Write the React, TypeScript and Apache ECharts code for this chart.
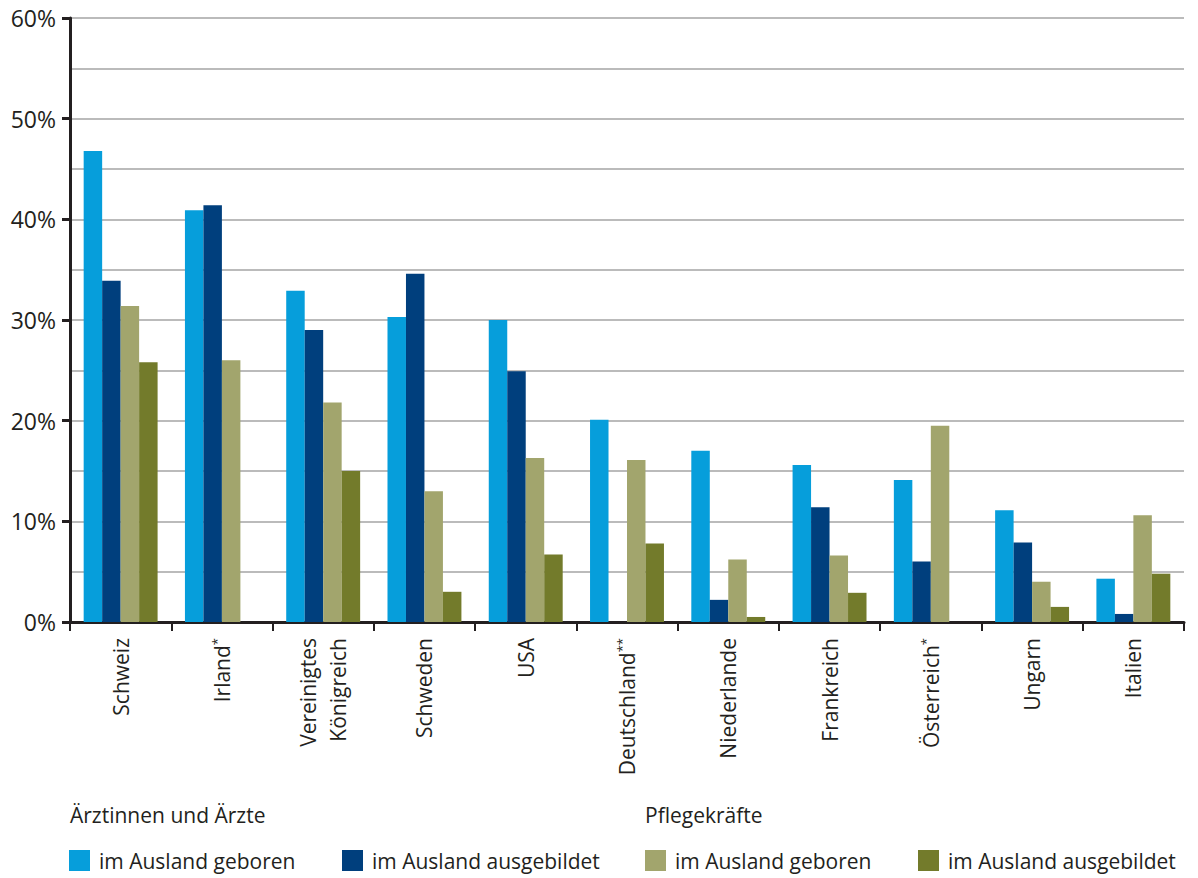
import React, { useEffect, useRef } from "react";
import * as echarts from "echarts";

// Countries (x categories)
const categories = [
  "Schweiz",
  "Irland*",
  "Vereinigtes\nKönigreich",
  "Schweden",
  "USA",
  "Deutschland**",
  "Niederlande",
  "Frankreich",
  "Österreich*",
  "Ungarn",
  "Italien",
];

// Share in percent; null = no data
const doctorsBornAbroad = [46.8, 40.9, 32.9, 30.3, 30.0, 20.1, 17.0, 15.6, 14.1, 11.1, 4.3];
const doctorsTrainedAbroad = [33.9, 41.4, 29.0, 34.6, 24.9, null, 2.2, 11.4, 6.0, 7.9, 0.8];
const nursesBornAbroad = [31.4, 26.0, 21.8, 13.0, 16.3, 16.1, 6.2, 6.6, 19.5, 4.0, 10.6];
const nursesTrainedAbroad = [25.8, null, 15.0, 3.0, 6.7, 7.8, 0.5, 2.9, null, 1.5, 4.8];

const groupDoctors = "Ärztinnen und Ärzte";
const groupNurses = "Pflegekräfte";
const labelBorn = "im Ausland geboren";
const labelTrained = "im Ausland ausgebildet";

const COLORS = ["#069edb", "#003f7d", "#a2a56d", "#737b2b"];
const FONT = "'Open Sans', 'DejaVu Sans', sans-serif";
const TEXT = "#231f20";

export default function App() {
  const ref = useRef<HTMLDivElement>(null);

  useEffect(() => {
    document.body.style.margin = "0";
    if (!ref.current) return;
    const chart = echarts.init(ref.current, undefined, { renderer: "svg" });

    const seriesDefs = [
      { name: `${groupDoctors}: ${labelBorn}`, data: doctorsBornAbroad },
      { name: `${groupDoctors}: ${labelTrained}`, data: doctorsTrainedAbroad },
      { name: `${groupNurses}: ${labelBorn}`, data: nursesBornAbroad },
      { name: `${groupNurses}: ${labelTrained}`, data: nursesTrainedAbroad },
    ];

    const legendLefts = [69, 342, 645, 918];

    chart.setOption({
      animation: false,
      color: COLORS,
      textStyle: { fontFamily: FONT, color: TEXT },
      grid: { left: 70, right: 14, top: 18, bottom: 256, containLabel: false },
      legend: seriesDefs.map((s, i) => ({
        data: [s.name],
        left: legendLefts[i],
        top: 850,
        icon: "rect",
        itemWidth: 21,
        itemHeight: 21,
        padding: 0,
        selectedMode: false,
        formatter: (n: string) => n.split(": ")[1],
        textStyle: {
          fontFamily: FONT,
          fontSize: 21,
          color: TEXT,
          padding: [0, 0, 0, 4],
        },
      })),
      graphic: [
        {
          type: "text",
          left: 70,
          top: 804,
          style: { text: groupDoctors, font: `21px ${FONT}`, fill: TEXT },
        },
        {
          type: "text",
          left: 645,
          top: 804,
          style: { text: groupNurses, font: `21px ${FONT}`, fill: TEXT },
        },
      ],
      xAxis: {
        type: "category",
        data: categories,
        boundaryGap: true,
        axisLine: { lineStyle: { color: TEXT, width: 3 } },
        axisTick: { show: true, interval: 0, length: 9, lineStyle: { color: TEXT, width: 2 } },
        axisLabel: {
          interval: 0,
          rotate: 90,
          margin: 16,
          fontFamily: FONT,
          fontSize: 21,
          color: TEXT,
          lineHeight: 30,
          formatter: (v: string) => {
            const m = v.match(/^(.*?)(\*+)$/);
            return m ? `${m[1]}{s|${m[2]}}` : v;
          },
          rich: {
            s: { fontSize: 13, fontFamily: FONT, color: TEXT, padding: [0, 0, 10, 0] },
          },
        },
      },
      yAxis: {
        type: "value",
        min: 0,
        max: 60,
        interval: 10,
        axisLine: { show: true, lineStyle: { color: TEXT, width: 3 } },
        axisTick: { show: true, length: 8, lineStyle: { color: TEXT, width: 3 } },
        axisLabel: {
          formatter: "{value}%",
          fontFamily: FONT,
          fontSize: 23,
          color: TEXT,
          margin: 14,
        },
        splitLine: { lineStyle: { color: "#a4a4a4", width: 1.5 } },
        minorTick: { show: false, splitNumber: 2 },
        minorSplitLine: { show: true, lineStyle: { color: "#a4a4a4", width: 1.5 } },
      },
      series: seriesDefs.map((s) => ({
        name: s.name,
        type: "bar",
        data: s.data,
        barGap: "0%",
        barCategoryGap: "27%",
      })),
    });

    return () => chart.dispose();
  }, []);

  return <div ref={ref} style={{ width: 1198, height: 878 }} />;
}
